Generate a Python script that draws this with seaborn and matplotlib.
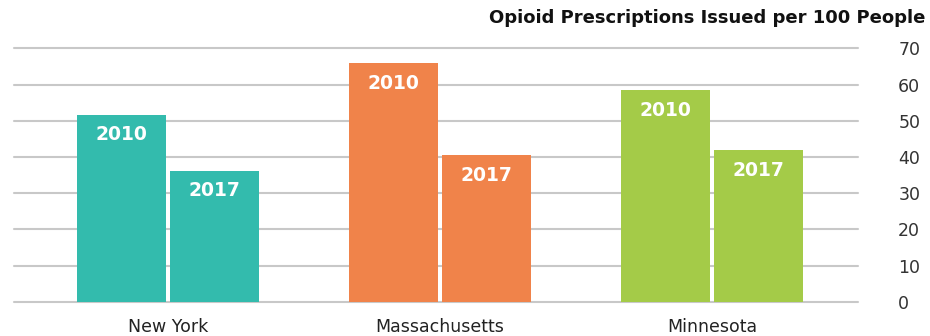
import matplotlib
matplotlib.use("Agg")
import matplotlib.pyplot as plt
import seaborn as sns
import pandas as pd

# Opioid prescriptions issued per 100 people, by state and year
states = ["New York", "Massachusetts", "Minnesota"]
years = ["2010", "2017"]
rate_2010 = [51.6, 65.9, 58.5]
rate_2017 = [36.2, 40.5, 41.9]
state_colors = ["#33BBAD", "#F0834A", "#A4CB48"]
y_ticks = [0, 10, 20, 30, 40, 50, 60, 70]
title = "Opioid Prescriptions Issued per 100 People"

df = pd.DataFrame({
    "state": states * 2,
    "year": [years[0]] * 3 + [years[1]] * 3,
    "rate": rate_2010 + rate_2017,
})

sns.set_theme(style="white")
plt.rcParams["font.family"] = ["DejaVu Sans"]

fig = plt.figure(figsize=(9.3, 3.36), dpi=100)
ax = fig.add_axes([0.015, 0.102, 0.9075, 0.754])

sns.barplot(data=df, x="state", y="rate", hue="year", order=states,
            hue_order=years, width=0.688, gap=0.048, legend=False,
            saturation=1, ax=ax)

# colour each bar by its state and write the year inside the top of the bar
for container, yr in zip(ax.containers, years):
    for i, bar in enumerate(container):
        bar.set_facecolor(state_colors[i])
        bar.set_edgecolor("none")
        ax.annotate(yr, (bar.get_x() + bar.get_width() / 2, bar.get_height()),
                    xytext=(0, -20), textcoords="offset pixels",
                    ha="center", va="center", color="white",
                    fontsize=13.5, fontweight="bold")

ax.set_ylim(0, 70)
ax.set_xlim(-0.566, 2.537)
ax.set_yticks(y_ticks)
ax.yaxis.tick_right()
ax.tick_params(axis="y", length=0, pad=29, labelsize=12.5, labelcolor="#333333")
ax.tick_params(axis="x", length=0, pad=12, labelsize=12.5, labelcolor="#222222")
ax.grid(axis="y", color="#c8c8c8", linewidth=1.5)
ax.grid(axis="x", visible=False)
for gl in ax.get_ygridlines():
    gl.set_clip_on(False)
ax.set_axisbelow(True)
for s in ax.spines.values():
    s.set_visible(False)
ax.set_xlabel("")
ax.set_ylabel("")

fig.text(0.995, 0.945, title, ha="right", va="center", fontsize=13,
         fontweight="bold", color="#111111")

fig.savefig("out.png", dpi=100)
